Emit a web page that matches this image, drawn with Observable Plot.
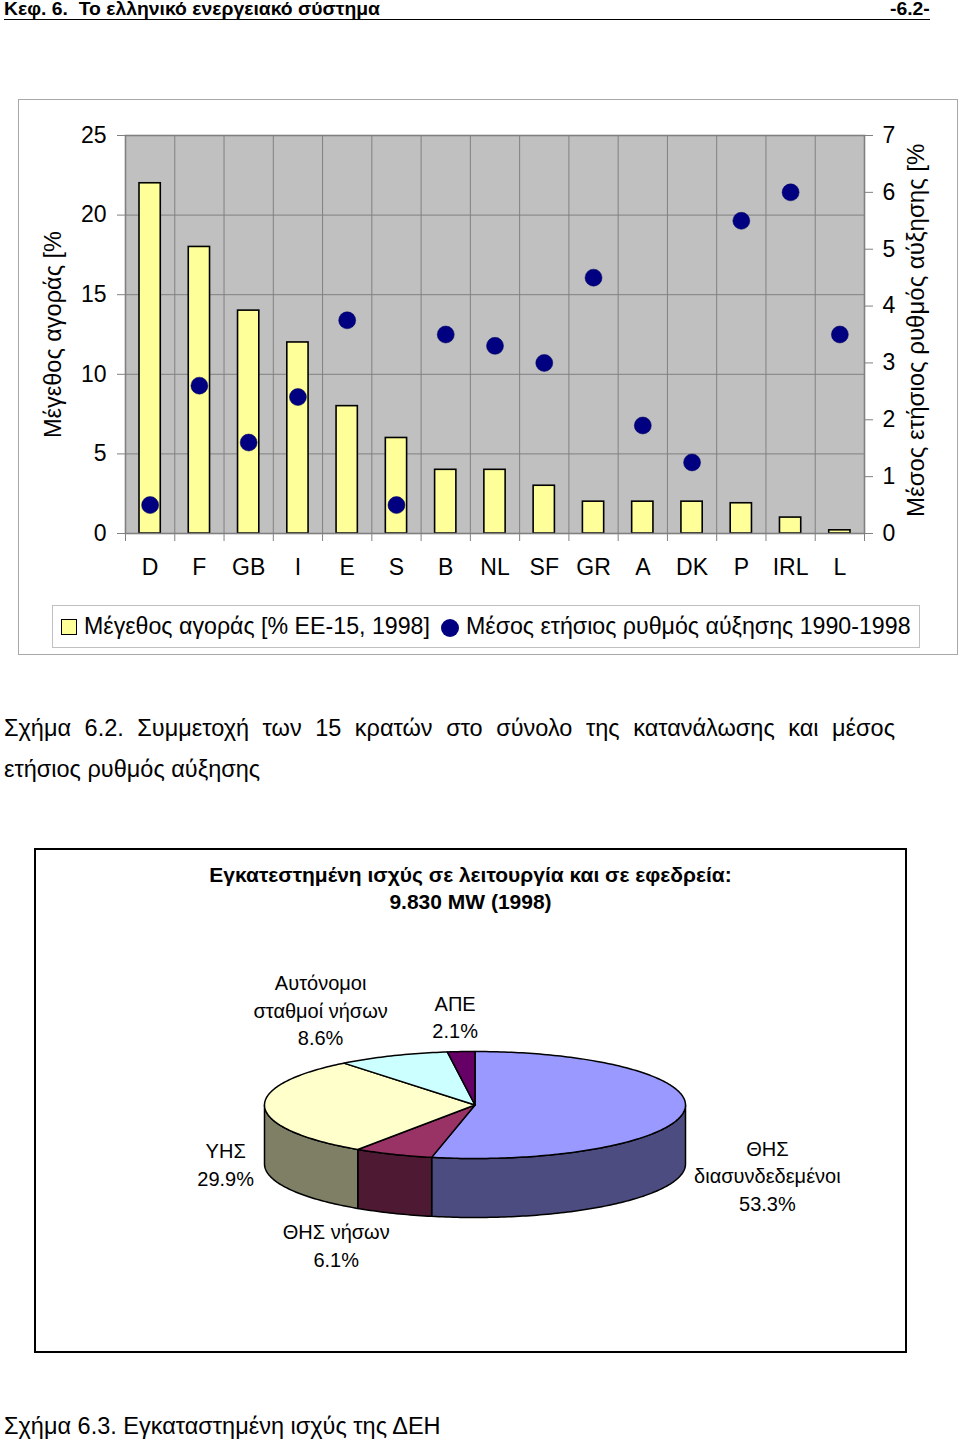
<!DOCTYPE html>
<html><head><meta charset="utf-8">
<script src="https://cdn.jsdelivr.net/npm/d3@7"></script>
<script src="https://cdn.jsdelivr.net/npm/@observablehq/plot@0.6"></script>
<style>
body{margin:0;background:#fff;font-family:"Liberation Sans",Arial,sans-serif;color:#000;}
#page{position:relative;width:960px;height:1442px;overflow:hidden;background:#fff;}
.abs{position:absolute;white-space:nowrap;}
</style></head><body><div id="page"></div>
<script>
// ---------- data ----------
const countries = ["D","F","GB","I","E","S","B","NL","SF","GR","A","DK","P","IRL","L"];
const marketShare = [22,18,14,12,8,6,4,4,3,2,2,2,1.9,1,0.2];
const growthRate = [0.5,2.6,1.6,2.4,3.75,0.5,3.5,3.3,3.0,4.5,1.9,1.25,5.5,6.0,3.5];
const shareTicks = [0,5,10,15,20,25];
const growthTicks = [0,1,2,3,4,5,6,7];
const shareLabel = "Μέγεθος αγοράς [% ΕΕ-15, 1998]";
const growthLabel = "Μέσος ετήσιος ρυθμός αύξησης 1990-1998";
const leftTitle = "Μέγεθος αγοράς [%";
const rightTitle = "Μέσος ετήσιος ρυθμός αύξησης [%";

const pieNames = ["ΘΗΣ\nδιασυνδεδεμένοι","ΘΗΣ νήσων","ΥΗΣ","Αυτόνομοι\nσταθμοί νήσων","ΑΠΕ"];
const pieValues = [53.3,6.1,29.9,8.6,2.1];
const pieTop = ["#9999FF","#993366","#FFFFCC","#CCFFFF","#660066"];
const pieSide = ["#4C4C80","#4D1933","#7F7F66","#668080","#330033"];
const labelNudge = [[83,64],[-57,90],[-39,56],[-72,-47],[-6,-36]];

const page = document.getElementById("page");
function div(html, css){const d=document.createElement("div");d.className="abs";d.style.cssText=css;d.innerHTML=html;page.appendChild(d);return d;}
const FONT = '"Liberation Sans", Arial, sans-serif';

// ---------- header (condensed bold) ----------
const h1 = div("Κεφ. 6.&nbsp; Το ελληνικό ενεργειακό σύστημα",
  "left:4px;top:0px;font-weight:bold;font-size:18px;line-height:19px;transform-origin:0 0;");
const sc = 376 / h1.getBoundingClientRect().width;
h1.style.transform = `scaleX(${sc})`;
const h2 = div("-6.2-", "left:930px;top:0px;font-weight:bold;font-size:18px;line-height:19px;transform-origin:0 0;");
const w2 = h2.getBoundingClientRect().width;
h2.style.left = (930 - w2*sc) + "px";
h2.style.transform = `scaleX(${sc})`;
div("", "left:4px;top:19px;width:926px;height:0;border-top:1.6px solid #000;");

// ---------- chart 1 ----------
div("", "left:18px;top:99px;width:940px;height:556px;box-sizing:border-box;border:1px solid #a8a8a8;");
const W=940,H=500,mL=107,mR=94,mT=36,mB=66;
const common = {width:W,height:H,marginLeft:mL,marginRight:mR,marginTop:mT,marginBottom:mB,
  style:{fontFamily:FONT,fontSize:"23px",background:"transparent",overflow:"visible"}};
const idx = d3.range(countries.length);
const barPlot = Plot.plot({...common,
  x:{domain:[0,countries.length],axis:null},
  y:{domain:[0,25],axis:null},
  marks:[
    Plot.frame({fill:"#C0C0C0"}),
    Plot.ruleY([5,10,15,20],{stroke:"#808080",strokeWidth:1}),
    Plot.ruleX(d3.range(1,countries.length),{stroke:"#808080",strokeWidth:1}),
    Plot.rectY(idx,{x1:i=>i,x2:i=>i+1,y:i=>marketShare[i],insetLeft:14,insetRight:14,fill:"#FFFF99",stroke:"#000",strokeWidth:1.6}),
    Plot.frame({stroke:"#808080",strokeWidth:1.6}),
    Plot.axisY(shareTicks,{anchor:"left",tickSize:8,tickPadding:11,stroke:"#808080",fontSize:23,label:null}),
    Plot.axisX(d3.range(0,countries.length+1),{anchor:"bottom",tickSize:8,stroke:"#808080",tickFormat:()=>"",label:null}),
    Plot.axisX(idx.map(i=>i+0.5),{anchor:"bottom",tickSize:0,tickPadding:25,tickFormat:d=>countries[Math.floor(d)],fontSize:23,label:null})
  ]});
const dotPlot = Plot.plot({...common,
  x:{domain:[0,countries.length],axis:null},
  y:{domain:[0,7],axis:null},
  marks:[
    Plot.dot(idx,{x:i=>i+0.5,y:i=>growthRate[i],r:8.5,fill:"#000080",stroke:"#000060",strokeWidth:0.5}),
    Plot.axisY(growthTicks,{anchor:"right",tickSize:8,tickPadding:10,stroke:"#808080",fontSize:23,tickFormat:d3.format("d"),label:null})
  ]});
const c1 = div("", "left:18px;top:99px;width:940px;height:500px;"); c1.appendChild(barPlot);
const c2 = div("", "left:18px;top:99px;width:940px;height:500px;"); c2.appendChild(dotPlot);
d3.select(barPlot).append("text").attr("transform","translate(37,339) rotate(-90)")
  .attr("dominant-baseline","middle").attr("text-anchor","start").attr("font-size",23.5).attr("fill","#000").text(leftTitle);
d3.select(dotPlot).append("text").attr("transform","translate(900,418) rotate(-90)")
  .attr("dominant-baseline","middle").attr("text-anchor","start").attr("font-size",24).attr("fill","#000").text(rightTitle);

// legend
div("", "left:52px;top:605px;width:868px;height:43px;box-sizing:border-box;border:1px solid #c0c0c0;");
div("", "left:61px;top:619px;width:16px;height:16px;box-sizing:border-box;border:1.6px solid #000;background:#FFFF99;");
div(shareLabel, "left:84px;top:613px;font-size:23.2px;line-height:27px;");
div("", "left:441px;top:619px;width:18px;height:18px;border-radius:50%;background:#000080;");
div(growthLabel, "left:466px;top:613px;font-size:23.2px;line-height:27px;");

// caption 1
div("Σχήμα 6.2. Συμμετοχή των 15 κρατών στο σύνολο της κατανάλωσης και μέσος",
  "left:4px;top:714px;width:891px;font-size:23.5px;line-height:29px;white-space:normal;text-align:justify;text-align-last:justify;");
div("ετήσιος ρυθμός αύξησης", "left:4px;top:755px;font-size:23.5px;line-height:29px;");

// ---------- pie box ----------
div("", "left:34px;top:848px;width:873px;height:505px;box-sizing:border-box;border:2px solid #000;");
div("Εγκατεστημένη ισχύς σε λειτουργία και σε εφεδρεία:<br>9.830 MW (1998)",
  "left:34px;top:861px;width:873px;text-align:center;font-weight:bold;font-size:21px;line-height:27px;");

const cx=474.5, cy=1104.5, rx=210.5, ry=53.5, depth=59;
const arcs = d3.pie().sort(null).value(d=>d)(pieValues);
const px = a => cx + rx*Math.sin(a), py = a => cy - ry*Math.cos(a);
function arcPts(a0,a1){const n=Math.max(2,Math.ceil(Math.abs(a1-a0)/(Math.PI/180)));return d3.range(n+1).map(k=>a0+(a1-a0)*k/n);}
const sidePts=[], topPts=[];
arcs.forEach((s,i)=>{
  const a0=Math.max(s.startAngle,Math.PI/2), a1=Math.min(s.endAngle,3*Math.PI/2);
  if(a1>a0){
    arcPts(a0,a1).forEach(a=>sidePts.push({x:px(a),y:py(a),id:i,c:pieSide[i]}));
    arcPts(a1,a0).forEach(a=>sidePts.push({x:px(a),y:py(a)+depth,id:i,c:pieSide[i]}));
  }
  topPts.push({x:cx,y:cy,id:i,c:pieTop[i]});
  arcPts(s.startAngle,s.endAngle).forEach(a=>topPts.push({x:px(a),y:py(a),id:i,c:pieTop[i]}));
});
const labels = arcs.map((s,i)=>{const m=(s.startAngle+s.endAngle)/2;
  return {x:px(m)+labelNudge[i][0], y:py(m)+labelNudge[i][1], t:pieNames[i]+"\n"+d3.format(".1f")(pieValues[i])+"%"};});
const pie = Plot.plot({width:872,height:400,margin:0,
  style:{fontFamily:FONT,fontSize:"20px",background:"transparent",overflow:"visible"},
  x:{domain:[34,906],range:[0,872],axis:null},
  y:{domain:[940,1340],range:[0,400],axis:null},
  color:{type:"identity"},
  marks:[
    Plot.line(sidePts,{x:"x",y:"y",z:"id",fill:"c",stroke:"#000",strokeWidth:1.5,curve:"linear-closed"}),
    Plot.line(topPts,{x:"x",y:"y",z:"id",fill:"c",stroke:"#000",strokeWidth:1.5,curve:"linear-closed"}),
    Plot.text(labels,{x:"x",y:"y",text:"t",fontSize:20,lineHeight:1.37,fill:"#000",textAnchor:"middle",lineAnchor:"middle"})
  ]});
const c3 = div("", "left:34px;top:940px;width:872px;height:400px;"); c3.appendChild(pie);

// caption 2
div("Σχήμα 6.3. Εγκαταστημένη ισχύς της ΔΕΗ", "left:4px;top:1412px;font-size:23.5px;line-height:29px;");
</script></body></html>
